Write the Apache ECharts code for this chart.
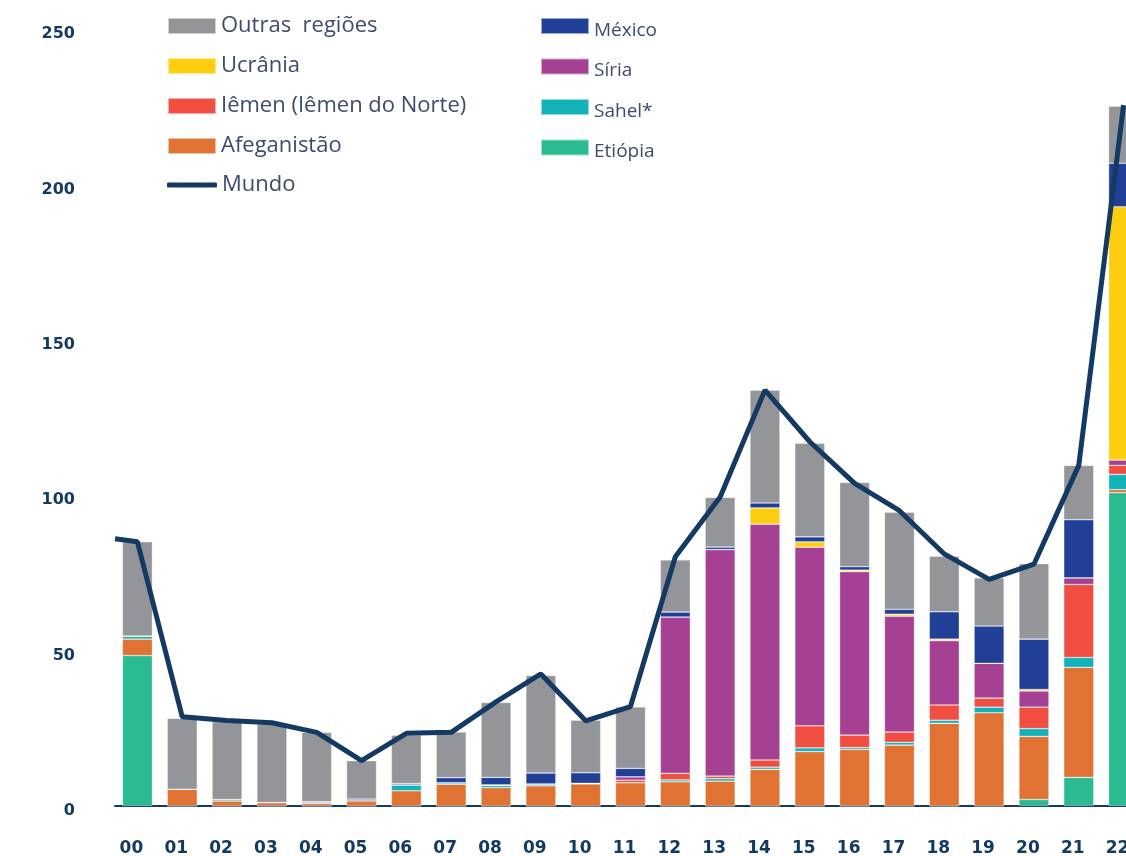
<!DOCTYPE html>
<html>
<head>
    <meta charset="utf-8">
    <title>Mortes em conflitos</title>
    <script src="https://cdn.jsdelivr.net/npm/echarts@6.0.0/dist/echarts.min.js"></script>
    <style>
        body { margin: 0; background: #fff; }
        #chart { width: 1126px; height: 856px; }
    </style>
</head>
<body>
    <div id="chart"></div>
    <script>
        // anos
        var anos = ['00', '01', '02', '03', '04', '05', '06', '07', '08', '09', '10', '11',
            '12', '13', '14', '15', '16', '17', '18', '19', '20', '21', '22'];

        // valores de cada região (empilhados de baixo para cima)
        var etiopia = [48.4, 0, 0, 0, 0, 0, 0, 0, 0, 0, 0, 0, 0, 0, 0, 0, 0, 0, 0, 0, 2.1, 9.2, 100.8];
        var afeganistao = [5.3, 5.4, 1.6, 1.1, 0.8, 1.7, 4.9, 7.0, 5.9, 6.5, 7.1, 7.5, 7.8, 8.0, 11.8, 17.5, 18.2, 19.6, 26.6, 30.0, 20.3, 35.4, 1.0];
        var sahel = [1.0, 0, 0.5, 0, 0, 0, 1.9, 0.5, 0.7, 0.6, 0.2, 0, 0.6, 0.8, 0.7, 1.2, 0.6, 0.9, 1.0, 1.8, 2.5, 3.2, 4.9];
        var iemen = [0, 0, 0, 0, 0, 0, 0, 0, 0, 0, 0, 0.8, 2.1, 0.8, 2.3, 7.1, 4.0, 3.3, 4.9, 2.9, 6.9, 23.5, 2.9];
        var siria = [0, 0, 0, 0, 0.3, 0, 0, 0, 0.2, 0, 0, 1.1, 50.3, 72.9, 75.9, 57.5, 52.6, 37.3, 20.7, 11.2, 5.2, 2.1, 1.7];
        var ucrania = [0, 0, 0, 0, 0, 0, 0, 0, 0, 0, 0, 0, 0, 0, 5.2, 1.7, 0.5, 0.6, 0.5, 0, 0.5, 0, 81.5];
        var mexico = [0, 0, 0, 0, 0.3, 0.5, 0.4, 1.6, 2.4, 3.5, 3.4, 2.7, 1.6, 0.8, 1.6, 1.6, 1.1, 1.6, 8.8, 12.0, 16.2, 18.7, 14.0];
        var outras = [30.3, 22.8, 25.0, 25.3, 22.3, 12.4, 15.6, 14.7, 24.1, 31.4, 16.9, 19.8, 16.8, 16.0, 36.3, 30.1, 27.1, 31.2, 17.9, 15.5, 24.3, 17.5, 18.4];

        // total mundial (a linha começa meio ano antes de 00)
        var mundoInicio = 86;
        var mundo = [85, 28.7, 27.5, 26.8, 23.7, 14.6, 23.4, 23.7, 33.5, 42.5, 27.4, 32.0, 80.2, 99.4, 133.8, 117.2, 103.8, 95.0, 81.1, 72.9, 77.8, 109.6, 225.5];

        var yTicks = [0, 50, 100, 150, 200, 250];

        var navy = '#143a63';
        var textCor = '#3d4c6c';

        var chart = echarts.init(document.getElementById('chart'));

        // pontos da linha no eixo de valores escondido
        var mundoPts = [[-0.5, mundoInicio]];
        mundo.forEach(function (v, i) { mundoPts.push([i, v]); });

        function barra(nome, dados, cor) {
            return {
                name: nome,
                type: 'bar',
                stack: 'total',
                barWidth: 30,
                data: dados,
                itemStyle: { color: cor, borderColor: 'rgba(255,255,255,0.55)', borderWidth: 0.6 }
            };
        }

        var option = {
            backgroundColor: '#fff',
            animation: false,
            grid: { left: 115, top: 29, width: 1031, bottom: 50, containLabel: false, outerBoundsMode: 'none' },
            legend: [{
                orient: 'vertical',
                left: 167,
                top: 15,
                padding: 0,
                itemWidth: 48,
                itemHeight: 16,
                itemGap: 18,
                icon: 'rect',
                selectedMode: false,
                textStyle: { color: textCor, fontSize: 22, fontFamily: 'Open Sans' },
                data: ['Outras  regiões', 'Ucrânia', 'Iêmen (Iêmen do Norte)', 'Afeganistão']
            }, {
                orient: 'vertical',
                left: 167,
                top: 174,
                padding: 0,
                itemWidth: 50,
                itemHeight: 5,
                icon: 'roundRect',
                selectedMode: false,
                textStyle: { color: textCor, fontSize: 22, fontFamily: 'Open Sans' },
                data: ['Mundo']
            }, {
                orient: 'vertical',
                left: 540,
                top: 17,
                padding: 0,
                itemWidth: 48,
                itemHeight: 16,
                itemGap: 17.5,
                icon: 'rect',
                selectedMode: false,
                formatter: function (n) { return '{t|' + n + '}'; },
                textStyle: {
                    color: textCor, fontSize: 19, fontFamily: 'Open Sans',
                    rich: { t: { color: textCor, fontSize: 19, fontFamily: 'Open Sans', padding: [9, 0, 0, 0] } }
                },
                data: ['México', 'Síria', 'Sahel*', 'Etiópia']
            }],
            xAxis: [{
                type: 'category',
                data: anos,
                axisLine: { lineStyle: { color: navy, width: 2 } },
                axisTick: { lineStyle: { color: navy, width: 2 }, length: 9 },
                axisLabel: {
                    margin: 34,
                    formatter: function (v) { return '{x|' + v + '}'; },
                    rich: { x: { color: navy, fontSize: 17, fontWeight: 'bold', fontFamily: 'DejaVu Sans', padding: [0, 12, 0, 0] } }
                }
            }, {
                type: 'value',
                min: -0.5,
                max: 22.5,
                show: false
            }],
            yAxis: {
                type: 'value',
                min: 0,
                max: 250,
                interval: 50,
                axisLine: { show: false },
                axisTick: { show: false },
                splitLine: { show: false },
                axisLabel: {
                    margin: 40,
                    formatter: function (v) { return yTicks.indexOf(v) >= 0 ? '{v|' + v + '}' : ''; },
                    rich: { v: { color: navy, fontSize: 16, fontWeight: 'bold', fontFamily: 'DejaVu Sans', padding: [10, 0, 0, 0] } }
                }
            },
            series: [
                barra('Etiópia', etiopia, '#2bbb93'),
                barra('Afeganistão', afeganistao, '#e07233'),
                barra('Sahel*', sahel, '#12b2bb'),
                barra('Iêmen (Iêmen do Norte)', iemen, '#ef4e41'),
                barra('Síria', siria, '#a54093'),
                barra('Ucrânia', ucrania, '#fdcd0f'),
                barra('México', mexico, '#213f96'),
                barra('Outras  regiões', outras, '#939598'),
                {
                    name: 'Mundo',
                    type: 'line',
                    xAxisIndex: 1,
                    data: mundoPts,
                    symbol: 'none',
                    z: 5,
                    itemStyle: { color: navy },
                    lineStyle: { color: navy, width: 5 }
                }
            ]
        };

        chart.setOption(option);
    </script>
</body>
</html>
